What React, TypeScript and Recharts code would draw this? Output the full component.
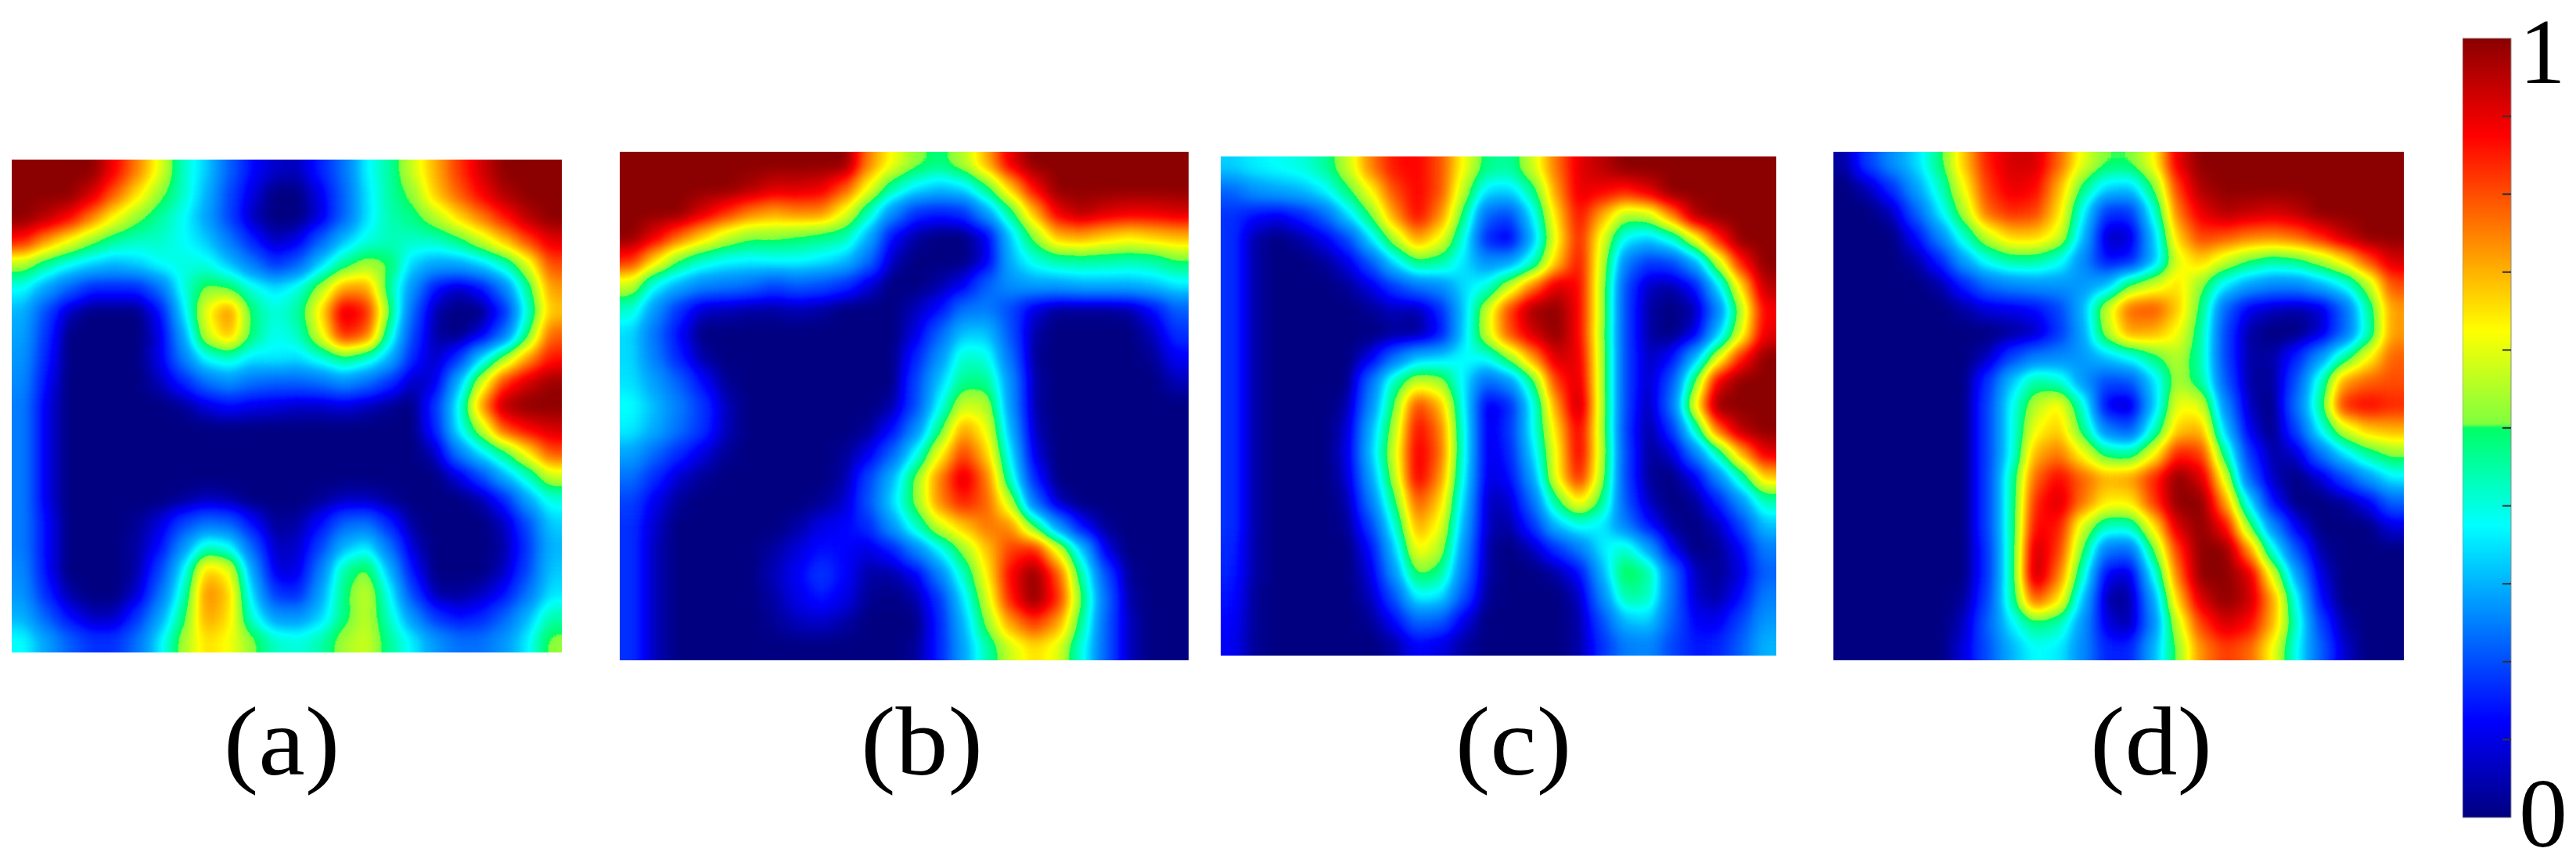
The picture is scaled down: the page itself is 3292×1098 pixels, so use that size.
import React from 'react';
import { ScatterChart, Scatter, XAxis, YAxis, BarChart, Bar } from 'recharts';

// Field values in percent of the colour scale (24 columns x 21 rows)
const panelA = [
  [100,100,100,100,88,75,60,42,33,18,8,4,3,10,20,37,45,58,70,82,92,100,100,100],
  [100,100,100,92,78,65,52,42,30,15,5,0,0,6,18,35,45,52,68,78,88,96,100,100],
  [100,95,88,75,62,52,45,38,28,14,3,0,0,5,18,35,44,47,55,66,75,85,95,100],
  [85,72,62,52,45,42,42,38,33,22,10,3,6,18,32,40,43,42,42,47,57,68,80,90],
  [55,45,38,33,30,33,38,40,40,32,22,12,18,34,47,55,50,33,28,28,33,42,58,80],
  [38,28,18,10,10,10,20,40,52,50,40,35,40,55,72,72,45,25,8,3,8,22,45,72],
  [30,15,3,0,0,0,8,35,62,75,48,40,45,65,92,85,50,18,2,0,0,10,40,68],
  [28,12,0,0,0,0,5,28,58,70,48,38,42,60,85,78,42,14,2,0,5,20,48,78],
  [26,10,0,0,0,0,6,22,38,42,35,36,34,40,48,42,30,10,3,12,35,54,72,86],
  [24,8,0,0,0,0,3,10,20,25,20,18,18,20,25,20,12,3,5,30,58,82,92,98],
  [22,6,0,0,0,0,0,1,5,8,6,5,4,4,5,3,1,0,12,38,72,96,100,100],
  [22,6,0,0,0,0,0,0,0,0,0,0,0,0,0,0,0,0,10,37,56,80,88,92],
  [22,6,0,0,0,0,0,0,0,0,0,0,0,0,0,0,0,0,3,22,36,48,64,80],
  [22,6,0,0,0,0,0,0,0,0,0,0,0,0,0,0,0,0,0,5,15,30,42,58],
  [22,6,0,0,0,0,0,1,3,2,0,0,0,1,3,3,1,0,0,0,2,10,28,40],
  [22,8,0,0,0,1,5,14,20,18,8,1,2,8,18,20,10,1,0,0,0,3,15,33],
  [22,8,0,0,0,2,8,25,42,38,18,3,4,14,30,36,20,4,0,0,0,2,12,30],
  [24,8,0,0,0,2,14,36,68,62,28,5,5,22,45,52,30,8,0,0,0,3,14,32],
  [26,11,2,0,0,4,20,42,75,68,34,12,10,28,48,58,38,14,2,1,3,8,20,35],
  [30,18,8,3,3,12,28,48,72,66,40,26,25,33,48,57,42,25,12,8,10,18,30,44],
  [38,28,18,12,12,20,36,54,66,62,52,42,40,44,54,58,46,36,26,20,20,26,36,52],
];

const panelB = [
  [100,100,100,100,100,100,100,100,100,100,75,62,52,48,55,70,90,100,100,100,100,100,100,100],
  [100,100,100,100,100,97,92,92,90,80,62,45,36,32,35,48,68,88,100,100,100,100,100,100],
  [100,100,100,92,84,76,72,75,75,62,44,25,12,10,12,28,47,70,90,96,92,90,90,92],
  [100,90,78,68,58,52,52,50,48,45,30,8,2,0,0,6,33,53,70,72,68,65,68,70],
  [84,66,50,42,38,37,38,38,36,32,20,3,0,0,0,5,30,40,45,46,45,44,45,50],
  [58,38,30,24,22,20,15,18,16,12,5,0,0,2,6,18,25,28,28,30,30,30,32,36],
  [42,26,12,4,3,2,2,3,2,0,0,0,3,8,20,22,15,5,1,1,1,2,8,18],
  [34,20,8,0,0,0,0,0,0,0,0,0,5,18,32,32,16,2,0,0,0,0,3,12],
  [34,22,10,2,0,0,0,0,0,0,0,0,10,25,42,40,20,1,0,0,0,0,1,7],
  [35,27,18,8,1,0,0,0,0,0,0,0,14,32,47,47,25,2,0,0,0,0,0,3],
  [38,31,22,13,3,0,0,0,0,0,0,2,15,38,58,56,26,2,0,0,0,0,0,0],
  [36,29,20,12,3,0,0,0,0,0,1,8,24,48,72,62,30,3,0,0,0,0,0,0],
  [28,19,11,5,1,0,0,0,0,1,6,18,38,62,82,68,36,5,0,0,0,0,0,0],
  [20,11,4,1,0,0,0,0,0,2,14,30,52,75,92,76,42,10,0,0,0,0,0,0],
  [14,6,1,0,0,0,0,0,1,4,16,34,52,74,85,78,57,20,3,0,0,0,0,0],
  [12,4,0,0,0,0,0,2,6,8,11,26,42,58,68,76,74,50,26,8,1,0,0,0],
  [12,3,0,0,0,0,2,5,9,8,5,9,22,36,52,68,82,86,62,34,6,0,0,0],
  [12,3,0,0,0,0,3,7,13,8,2,2,6,22,42,63,88,100,80,45,16,1,0,0],
  [12,3,0,0,0,0,2,6,9,6,1,0,2,12,35,58,85,100,84,50,20,2,0,0],
  [12,3,0,0,0,0,1,3,4,2,0,0,0,10,30,52,72,82,72,46,18,3,0,0],
  [12,3,0,0,0,0,0,0,0,0,0,0,1,10,28,44,58,66,60,40,18,3,0,0],
];

const panelC = [
  [33,36,38,40,45,57,75,86,88,80,62,47,45,58,76,90,95,100,100,100,100,100,100,100],
  [18,25,28,30,36,48,62,80,88,80,56,34,33,46,72,90,88,84,90,100,100,100,100,100],
  [12,8,6,10,18,34,50,72,88,74,48,18,14,36,66,87,70,54,56,74,96,100,100,100],
  [12,2,0,2,6,14,35,55,72,62,40,10,5,30,62,85,60,36,32,40,60,84,100,100],
  [12,2,0,0,1,5,16,34,48,45,35,25,28,42,68,87,57,22,12,14,28,56,85,100],
  [12,2,0,0,0,1,5,13,20,24,34,40,58,76,92,88,55,15,3,2,8,34,65,95],
  [12,2,0,0,0,0,1,3,2,10,32,58,82,98,100,88,55,14,2,0,2,22,55,88],
  [12,2,0,0,0,0,0,1,1,8,33,58,80,92,100,88,54,14,2,0,5,32,60,90],
  [12,2,0,0,0,0,6,20,32,34,38,38,52,72,92,90,55,14,3,8,30,60,85,100],
  [12,2,0,0,0,0,20,44,58,55,36,18,25,47,82,92,55,14,3,16,50,90,100,100],
  [12,2,0,0,0,2,24,50,82,70,38,5,10,38,72,96,55,14,2,20,62,100,100,100],
  [12,2,0,0,0,4,30,55,88,76,40,5,12,38,66,90,55,13,1,12,42,78,96,100],
  [12,2,0,0,0,5,32,58,90,78,40,5,10,34,62,90,56,14,1,4,22,44,70,90],
  [12,2,0,0,0,4,28,55,90,74,38,5,8,28,62,86,54,14,1,0,6,24,44,68],
  [12,2,0,0,0,2,22,48,80,68,34,3,4,20,48,66,48,16,3,0,1,10,26,44],
  [12,2,0,0,0,1,14,40,72,62,30,3,2,12,32,40,36,22,8,1,0,3,14,32],
  [11,2,0,0,0,0,8,32,64,56,26,2,0,3,12,22,36,42,28,6,0,1,7,22],
  [10,2,0,0,0,0,5,26,52,48,22,2,0,0,2,8,30,52,46,20,3,1,5,18],
  [9,1,0,0,0,0,3,16,38,36,16,1,0,0,0,3,24,46,44,20,4,2,8,22],
  [8,1,0,0,0,0,1,8,20,18,6,0,0,0,0,2,16,32,34,18,7,6,14,26],
  [7,1,0,0,0,0,0,2,8,6,2,0,0,0,0,2,12,22,24,15,9,10,18,30],
];

const panelD = [
  [2,14,25,34,48,68,85,92,92,78,60,50,50,62,90,100,100,100,100,100,100,100,100,100],
  [0,3,12,28,42,62,82,90,88,70,48,34,32,50,82,97,100,100,100,100,100,100,100,100],
  [0,0,3,18,36,55,78,84,82,66,38,12,12,40,76,90,96,94,92,95,100,100,100,100],
  [0,0,0,8,24,42,58,68,68,60,32,3,4,32,68,82,80,76,75,78,85,94,100,100],
  [0,0,0,2,10,28,40,46,46,40,24,8,9,30,60,68,58,50,46,48,55,65,80,92],
  [0,0,0,0,2,10,20,24,26,26,26,30,50,58,66,52,36,28,24,24,30,38,55,80],
  [0,0,0,0,0,2,5,6,8,14,30,58,78,80,68,48,18,6,3,2,4,18,44,72],
  [0,0,0,0,0,0,0,1,3,12,28,55,72,70,62,45,14,2,0,0,4,18,42,72],
  [0,0,0,0,0,0,3,14,22,24,26,32,38,48,56,44,14,2,2,10,26,45,62,78],
  [0,0,0,0,0,0,12,32,46,42,26,15,16,34,55,46,17,2,1,16,42,72,78,80],
  [0,0,0,0,0,0,14,38,56,64,42,6,3,32,62,60,24,3,0,20,46,84,88,84],
  [0,0,0,0,0,0,14,38,62,68,48,22,16,42,68,70,32,6,0,14,38,58,68,70],
  [0,0,0,0,0,0,14,38,70,76,62,47,45,62,85,82,46,12,2,4,20,35,46,52],
  [0,0,0,0,0,0,14,44,78,88,78,70,72,84,100,92,60,18,3,0,4,14,26,36],
  [0,0,0,0,0,0,14,44,84,92,76,64,64,82,100,100,72,36,8,0,0,1,6,18],
  [0,0,0,0,0,0,14,44,88,86,58,42,42,64,92,100,88,52,24,6,0,0,0,5],
  [0,0,0,0,0,0,12,44,94,82,50,20,18,50,82,100,100,74,40,16,2,0,0,0],
  [0,0,0,0,0,0,12,44,96,76,42,6,4,38,76,100,100,92,60,28,5,0,0,0],
  [0,0,0,0,0,1,14,44,80,66,32,2,1,28,68,92,100,94,72,38,8,0,0,0],
  [0,0,0,0,0,3,18,36,48,44,26,5,2,24,58,82,92,88,70,42,14,2,0,0],
  [0,0,0,0,0,5,16,30,38,36,24,10,10,30,52,74,82,78,62,38,18,4,0,0],
];

const captions = ['(a)', '(b)', '(c)', '(d)'];
const colorbarTicks = [0, 0.1, 0.2, 0.3, 0.4, 0.5, 0.6, 0.7, 0.8, 0.9, 1];
const colorbarData = [{ name: 'scale', level: 1 }];

// Jet-like colour stops: position, r, g, b (the jump at 0.5 is in the original scale)
const jetStops = [
  [0, 0, 0, 128],
  [0.125, 0, 0, 255],
  [0.375, 0, 255, 255],
  [0.5, 0, 255, 102],
  [0.505, 127, 255, 63],
  [0.625, 255, 255, 0],
  [0.875, 255, 0, 0],
  [1, 139, 0, 0],
];

// The grid is coarse, so the blue fringe around the dark areas needs a small lift
const fringeLift = [
  [0, 0],
  [0.02, 0.035],
  [0.05, 0.09],
  [0.1, 0.155],
  [0.2, 0.235],
  [0.3, 0.3],
  [1, 1],
];

const serif = '"Liberation Serif", serif';

const lerpStops = (stops: number[][], t: number) => {
  for (let i = 1; i < stops.length; i++) {
    if (t <= stops[i][0]) {
      const a = stops[i - 1];
      const b = stops[i];
      const f = (t - a[0]) / (b[0] - a[0]);
      return a.slice(1).map((v, k) => v + (b[k + 1] - v) * f);
    }
  }
  return stops[stops.length - 1].slice(1);
};

const levels = Array.from({ length: 256 }, (_, i) => lerpStops(jetStops, lerpStops(fringeLift, i / 255)[0]));
const channelTable = (k: number) => levels.map((c) => (c[k] / 255).toFixed(4)).join(' ');

// Grayscale field -> blur -> colour lookup, so the contours stay true to the scale
const JetFilter = () => (
  <svg width={0} height={0} style={{ position: 'absolute' }}>
    <defs>
      <filter id="jetField" x="0" y="0" width="100%" height="100%" colorInterpolationFilters="sRGB">
        <feGaussianBlur stdDeviation="11" />
        <feComponentTransfer>
          <feFuncR type="table" tableValues={channelTable(0)} />
          <feFuncG type="table" tableValues={channelTable(1)} />
          <feFuncB type="table" tableValues={channelTable(2)} />
        </feComponentTransfer>
      </filter>
    </defs>
  </svg>
);

const PAD = 40;

const Heatmap = ({ rows, left, top, width, height, caption, captionX }: any) => {
  const nRows = rows.length;
  const nCols = rows[0].length;
  const cells = rows.flatMap((row: number[], r: number) =>
    row.map((value, c) => ({ col: c + 0.5, row: r + 0.5, c, r, value }))
  );
  const cw = width / nCols;
  const ch = height / nRows;

  const renderCell = (props: any) => {
    const { cx, cy, payload } = props;
    const g = Math.round((payload.value / 100) * 255);
    const x0 = cx - cw / 2 - (payload.c === 0 ? PAD : 0.5);
    const x1 = cx + cw / 2 + (payload.c === nCols - 1 ? PAD : 0.5);
    const y0 = cy - ch / 2 - (payload.r === 0 ? PAD : 0.5);
    const y1 = cy + ch / 2 + (payload.r === nRows - 1 ? PAD : 0.5);
    return <rect x={x0} y={y0} width={x1 - x0} height={y1 - y0} fill={`rgb(${g},${g},${g})`} />;
  };

  return (
    <>
      <div style={{ position: 'absolute', left, top, width, height, overflow: 'hidden' }}>
        <div style={{ position: 'absolute', left: -PAD, top: -PAD, filter: 'url(#jetField)' }}>
          <ScatterChart
            width={width + PAD * 2}
            height={height + PAD * 2}
            margin={{ top: PAD, right: PAD, bottom: PAD, left: PAD }}
          >
            <XAxis type="number" dataKey="col" domain={[0, nCols]} hide />
            <YAxis type="number" dataKey="row" domain={[0, nRows]} reversed hide />
            <Scatter data={cells} shape={renderCell} isAnimationActive={false} />
          </ScatterChart>
        </div>
      </div>
      <div
        style={{
          position: 'absolute',
          left: captionX - 150,
          top: 876,
          width: 300,
          textAlign: 'center',
          fontFamily: serif,
          fontSize: 124,
          lineHeight: '146px',
          color: '#000',
          transform: 'scaleX(1.08)',
        }}
      >
        {caption}
      </div>
    </>
  );
};

const ColorbarTick = ({ x, y, payload }: any) => {
  const v = payload.value;
  if (v === 1) {
    return (
      <g>
        <text x={x + 40} y={y + 57} textAnchor="middle" fontFamily={serif} fontSize={118} fill="#000">1</text>
      </g>
    );
  }
  if (v === 0) {
    return (
      <g>
        <text x={x + 41} y={y + 37} textAnchor="middle" fontFamily={serif} fontSize={124} fill="#000">0</text>
      </g>
    );
  }
  return <line x1={x - 11} x2={x} y1={y} y2={y} stroke="#333" strokeWidth={2} />;
};

const Colorbar = () => (
  <div style={{ position: 'absolute', left: 3147, top: 0 }}>
    <BarChart
      width={145}
      height={1098}
      data={colorbarData}
      margin={{ top: 49, right: 0, bottom: 53, left: 0 }}
      barCategoryGap={0}
    >
      <defs>
        <linearGradient id="jetScale" x1="0" y1="1" x2="0" y2="0">
          {jetStops.map((s, i) => (
            <stop key={i} offset={s[0]} stopColor={`rgb(${s[1]},${s[2]},${s[3]})`} />
          ))}
        </linearGradient>
      </defs>
      <XAxis dataKey="name" hide />
      <YAxis
        orientation="right"
        width={83}
        domain={[0, 1]}
        ticks={colorbarTicks}
        interval={0}
        axisLine={false}
        tickLine={false}
        tickSize={0}
        tickMargin={0}
        tick={<ColorbarTick />}
      />
      <Bar dataKey="level" fill="url(#jetScale)" stroke="#8a8a8a" isAnimationActive={false} />
    </BarChart>
  </div>
);

export default function App() {
  return (
    <div style={{ position: 'absolute', left: 0, top: 0, width: 3292, height: 1098, background: '#fff', overflow: 'hidden' }}>
      <JetFilter />
      <Heatmap rows={panelA} left={15} top={204} width={703} height={630} caption={captions[0]} captionX={360} />
      <Heatmap rows={panelB} left={792} top={194} width={727} height={650} caption={captions[1]} captionX={1178} />
      <Heatmap rows={panelC} left={1560} top={200} width={710} height={638} caption={captions[2]} captionX={1934} />
      <Heatmap rows={panelD} left={2343} top={194} width={729} height={650} caption={captions[3]} captionX={2749} />
      <Colorbar />
    </div>
  );
}
